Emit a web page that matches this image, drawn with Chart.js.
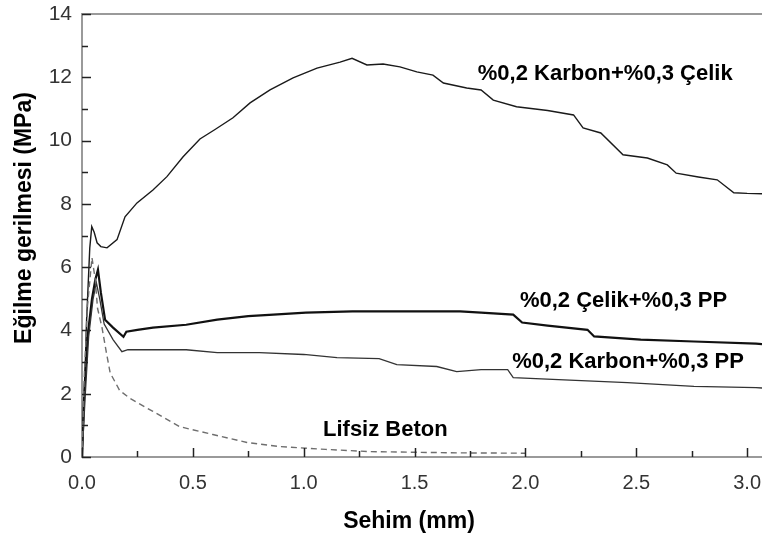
<!DOCTYPE html>
<html>
<head>
<meta charset="utf-8">
<script src="https://cdn.jsdelivr.net/npm/chart.js@4.4.1/dist/chart.umd.min.js"></script>
<style>
  html, body { margin: 0; padding: 0; background: #ffffff; }
  #wrap { width: 762px; height: 542px; position: relative; }
</style>
</head>
<body>
<div id="wrap"><canvas id="c" width="762" height="542"></canvas></div>
<script>
// Deflection (mm) and flexural stress (MPa) for each mix
const karbonCelikX = [0, 0.01, 0.02, 0.035, 0.044, 0.055, 0.068, 0.085, 0.113, 0.158, 0.194, 0.248, 0.32, 0.383, 0.456, 0.532, 0.60, 0.681, 0.758, 0.848, 0.952, 1.06, 1.164, 1.218, 1.285, 1.358, 1.434, 1.51, 1.583, 1.63, 1.735, 1.80, 1.855, 1.96, 2.10, 2.217, 2.26, 2.34, 2.44, 2.55, 2.64, 2.68, 2.78, 2.865, 2.94, 3.0, 3.067];
const karbonCelikY = [0, 1.8, 4.2, 6.6, 7.28, 7.1, 6.77, 6.65, 6.61, 6.87, 7.59, 8.03, 8.44, 8.86, 9.49, 10.05, 10.35, 10.72, 11.19, 11.6, 11.98, 12.29, 12.48, 12.6, 12.39, 12.42, 12.33, 12.17, 12.07, 11.82, 11.66, 11.6, 11.28, 11.07, 10.95, 10.81, 10.4, 10.24, 9.55, 9.45, 9.23, 8.97, 8.85, 8.76, 8.35, 8.33, 8.32];

const celikPPX = [0, 0.01, 0.025, 0.045, 0.06, 0.072, 0.085, 0.104, 0.14, 0.187, 0.2, 0.25, 0.32, 0.47, 0.61, 0.75, 0.863, 1.01, 1.22, 1.52, 1.705, 1.80, 1.945, 1.985, 2.10, 2.28, 2.31, 2.52, 2.76, 3.04, 3.067];
const celikPPY = [0, 2.0, 3.8, 5.0, 5.6, 5.92, 5.2, 4.34, 4.09, 3.8, 3.96, 4.02, 4.09, 4.18, 4.34, 4.45, 4.5, 4.56, 4.6, 4.6, 4.6, 4.56, 4.5, 4.25, 4.15, 4.02, 3.81, 3.71, 3.65, 3.58, 3.57];

const karbonPPX = [0, 0.015, 0.03, 0.05, 0.065, 0.08, 0.1, 0.14, 0.18, 0.207, 0.32, 0.47, 0.61, 0.8, 1.0, 1.15, 1.34, 1.42, 1.6, 1.69, 1.8, 1.92, 1.945, 2.2, 2.46, 2.76, 3.04, 3.067];
const karbonPPY = [0, 2.0, 3.8, 5.0, 5.5, 5.0, 4.2, 3.71, 3.33, 3.39, 3.39, 3.39, 3.3, 3.3, 3.24, 3.14, 3.11, 2.92, 2.86, 2.7, 2.76, 2.76, 2.51, 2.43, 2.35, 2.23, 2.19, 2.18];

const lifsizX = [0, 0.01, 0.025, 0.045, 0.06, 0.07, 0.09, 0.11, 0.127, 0.17, 0.217, 0.32, 0.44, 0.59, 0.744, 0.893, 1.1, 1.3, 1.5, 1.7, 2.0];
const lifsizY = [0, 2.5, 4.8, 6.3, 5.6, 4.7, 4.1, 3.3, 2.66, 2.1, 1.85, 1.44, 0.96, 0.71, 0.46, 0.33, 0.24, 0.17, 0.15, 0.13, 0.12];

// Series names, written next to their curves
const seriesNames = ['%0,2 Karbon+%0,3 Çelik', '%0,2 Çelik+%0,3 PP', '%0,2 Karbon+%0,3 PP', 'Lifsiz Beton'];

// Axis titles and tick steps
const xTitle = 'Sehim (mm)';
const yTitle = 'Eğilme gerilmesi (MPa)';
const xMajorStep = 0.5, xMinorStep = 0.25;
const yMajorStep = 2, yMinorStep = 1;

const pts = (xs, ys) => xs.map((x, i) => ({ x: x, y: ys[i] }));

const FONT = "'Liberation Sans', Arial, sans-serif";

// Curve labels placed in data space (deflection, stress), left-aligned
const curveLabels = [
  { text: seriesNames[0], x: 1.785, y: 12.1 },
  { text: seriesNames[1], x: 1.975, y: 4.93 },
  { text: seriesNames[2], x: 1.94, y: 3.0 },
  { text: seriesNames[3], x: 1.087, y: 0.86 }
];

const framePlugin = {
  id: 'frame',
  afterDatasetsDraw(chart) {
    const { ctx, chartArea: a, scales: { x, y } } = chart;
    ctx.save();
    // top frame line
    ctx.strokeStyle = '#9a9a9a';
    ctx.lineWidth = 2;
    ctx.beginPath();
    ctx.moveTo(a.left - 1, a.top);
    ctx.lineTo(a.right, a.top);
    ctx.stroke();
    // inward tick marks
    ctx.strokeStyle = '#222';
    ctx.lineWidth = 1.5;
    for (let v = 0; v <= y.max + 1e-9; v += yMinorStep) {
      const py = Math.round(y.getPixelForValue(v)) + 0.5;
      const len = (Math.abs(v / yMajorStep - Math.round(v / yMajorStep)) < 1e-6) ? 9 : 6;
      ctx.beginPath();
      ctx.moveTo(a.left, py);
      ctx.lineTo(a.left + len, py);
      ctx.stroke();
    }
    for (let v = 0; v <= x.max + 1e-9; v += xMinorStep) {
      const px = Math.round(x.getPixelForValue(v)) + 0.5;
      const len = (Math.abs(v / xMajorStep - Math.round(v / xMajorStep)) < 1e-6) ? 9 : 6;
      ctx.beginPath();
      ctx.moveTo(px, a.bottom);
      ctx.lineTo(px, a.bottom - len);
      ctx.stroke();
    }
    // curve labels
    ctx.fillStyle = '#000';
    ctx.font = "bold 22px " + FONT;
    ctx.textAlign = 'left';
    ctx.textBaseline = 'middle';
    curveLabels.forEach(l => {
      ctx.fillText(l.text, x.getPixelForValue(l.x), y.getPixelForValue(l.y));
    });
    // axis titles
    ctx.font = "bold 23px " + FONT;
    ctx.textAlign = 'center';
    ctx.fillText(xTitle, 409, 522);
    ctx.translate(25, 218);
    ctx.rotate(-Math.PI / 2);
    ctx.fillText(yTitle, 0, 0);
    ctx.restore();
  }
};

new Chart(document.getElementById('c'), {
  type: 'line',
  data: {
    datasets: [
      { label: seriesNames[3], data: pts(lifsizX, lifsizY), borderColor: '#6e6e6e', borderWidth: 1.4, borderDash: [6, 4] },
      { label: seriesNames[2], data: pts(karbonPPX, karbonPPY), borderColor: '#333333', borderWidth: 1.3 },
      { label: seriesNames[1], data: pts(celikPPX, celikPPY), borderColor: '#111111', borderWidth: 2.2 },
      { label: seriesNames[0], data: pts(karbonCelikX, karbonCelikY), borderColor: '#1a1a1a', borderWidth: 1.4 }
    ]
  },
  options: {
    responsive: false,
    animation: false,
    devicePixelRatio: 1,
    elements: { point: { radius: 0 }, line: { tension: 0, fill: false } },
    layout: { padding: { top: 14, left: 0, right: 0, bottom: 0 } },
    plugins: { legend: { display: false }, tooltip: { enabled: false } },
    scales: {
      x: {
        type: 'linear',
        min: 0,
        max: 3.067,
        grid: { display: false },
        border: { display: true, color: '#9a9a9a', width: 2 },
        ticks: {
          stepSize: xMajorStep,
          includeBounds: false,
          autoSkip: false,
          maxRotation: 0,
          padding: 6,
          color: '#333',
          font: { family: FONT, size: 20 },
          callback: v => Number(v).toFixed(1)
        },
        afterFit(s) { s.height = 85; s.paddingLeft = 0; s.paddingRight = 0; }
      },
      y: {
        type: 'linear',
        min: 0,
        max: 14,
        grid: { display: false },
        border: { display: true, color: '#9a9a9a', width: 2 },
        ticks: {
          stepSize: yMajorStep,
          padding: 2,
          color: '#333',
          font: { family: FONT, size: 21 },
          callback: v => String(v)
        },
        afterFit(s) { s.width = 82; s.paddingTop = 0; s.paddingBottom = 0; }
      }
    }
  },
  plugins: [framePlugin]
});
</script>
</body>
</html>
